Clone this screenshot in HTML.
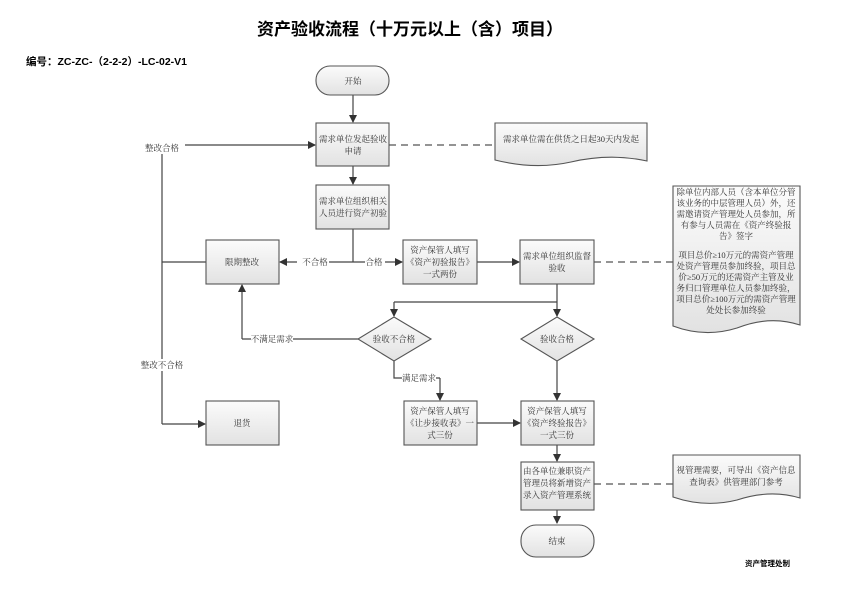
<!DOCTYPE html>
<html><head><meta charset="utf-8"><style>
body{margin:0;background:#fff}
svg text{font-family:"Liberation Serif","Noto Serif CJK SC",serif;font-size:8.5px;fill:#333}
</style></head><body>
<svg width="845" height="591" viewBox="0 0 845 591" xmlns="http://www.w3.org/2000/svg">
<defs>
<linearGradient id="g" x1="0" y1="0" x2="0" y2="1"><stop offset="0" stop-color="#fbfbfb"/><stop offset="1" stop-color="#e2e2e2"/></linearGradient>
<marker id="a" markerWidth="8" markerHeight="8" refX="7" refY="4" orient="auto" markerUnits="userSpaceOnUse"><path d="M0,0 L8,4 L0,8 z" fill="#333"/></marker>
</defs>
<text x="410" y="35" text-anchor="middle" style="font-family:'Liberation Sans','Noto Sans CJK SC',sans-serif;font-size:17px;font-weight:bold;fill:#000">资产验收流程（十万元以上（含）项目）</text>
<text x="26" y="65" style="font-family:'Liberation Sans','Noto Sans CJK SC',sans-serif;font-size:10.5px;font-weight:bold;fill:#000">编号：ZC-ZC-（2-2-2）-LC-02-V1</text>
<text x="745" y="566" style="font-family:'Liberation Sans','Noto Sans CJK SC',sans-serif;font-size:7.5px;font-weight:bold;fill:#000">资产管理处制</text>

<g stroke="#444" stroke-width="1.2" fill="none">
<line x1="353" y1="95" x2="353" y2="122" marker-end="url(#a)"/>
<line x1="353" y1="166" x2="353" y2="184" marker-end="url(#a)"/>
<polyline points="353,229 353,262"/>
<line x1="353" y1="262" x2="280" y2="262" marker-end="url(#a)"/>
<line x1="353" y1="262" x2="402" y2="262" marker-end="url(#a)"/>
<line x1="477" y1="262" x2="519" y2="262" marker-end="url(#a)"/>
<polyline points="206,262 162,262"/>
<polyline points="162,152 162,424"/>
<line x1="162" y1="424" x2="205" y2="424" marker-end="url(#a)"/>
<line x1="185" y1="145" x2="315" y2="145" marker-end="url(#a)"/>
<line x1="557" y1="284" x2="557" y2="316" marker-end="url(#a)"/>
<polyline points="557,302 394,302"/>
<line x1="394" y1="302" x2="394" y2="316" marker-end="url(#a)"/>
<polyline points="358,339 242,339"/>
<line x1="242" y1="339" x2="242" y2="285" marker-end="url(#a)"/>
<polyline points="394,361 394,378 440,378"/>
<line x1="440" y1="378" x2="440" y2="400" marker-end="url(#a)"/>
<line x1="557" y1="361" x2="557" y2="400" marker-end="url(#a)"/>
<line x1="477" y1="423" x2="520" y2="423" marker-end="url(#a)"/>
<line x1="557" y1="445" x2="557" y2="461" marker-end="url(#a)"/>
<line x1="557" y1="510" x2="557" y2="523" marker-end="url(#a)"/>
</g>
<g stroke="#555" stroke-width="1.3" stroke-dasharray="7,5" fill="none">
<line x1="389" y1="145" x2="495" y2="145"/>
<line x1="594" y1="262" x2="673" y2="262"/>
<line x1="594" y1="484" x2="673" y2="484"/>
</g>
<!-- label backgrounds -->
<g fill="#fff">
<rect x="143" y="142" width="40" height="12"/><rect x="297" y="256" width="32" height="12"/><rect x="365" y="256" width="20" height="12"/>
<rect x="251" y="333" width="42" height="12"/><rect x="143" y="359" width="40" height="12"/><rect x="402" y="372" width="34" height="12"/>
</g>
<text x="162" y="151" text-anchor="middle">整改合格</text>
<text x="162" y="368" text-anchor="middle">整改不合格</text>
<text x="315" y="265" text-anchor="middle">不合格</text>
<text x="374" y="265" text-anchor="middle">合格</text>
<text x="272" y="342" text-anchor="middle">不满足需求</text>
<text x="419" y="381" text-anchor="middle">满足需求</text>

<g fill="url(#g)" stroke="#555" stroke-width="1.1">
<rect x="316" y="66" width="73" height="29" rx="14"/>
<rect x="316" y="123" width="73" height="43"/>
<rect x="316" y="185" width="73" height="44"/>
<rect x="206" y="240" width="73" height="44"/>
<rect x="403" y="240" width="74" height="44"/>
<rect x="520" y="240" width="74" height="44"/>
<polygon points="394,317 431,339 394,361 358,339"/>
<polygon points="557,317 594,339 557,361 521,339"/>
<rect x="206" y="401" width="73" height="44"/>
<rect x="404" y="401" width="73" height="44"/>
<rect x="521" y="401" width="73" height="44"/>
<rect x="521" y="462" width="73" height="48"/>
<rect x="521" y="525" width="73" height="32" rx="15"/>
<path d="M495,123 H647 V161 Q610,153 571,162 Q535,170 495,160 Z"/>
<path d="M673,186 H800 V325 Q770,315 737,328 Q705,338 673,326 Z"/>
<path d="M673,455 H800 V498 Q770,489 737,500 Q705,508 673,497 Z"/>
</g>
<g text-anchor="middle">
<text x="353" y="84">开始</text>
<text x="353" y="142">需求单位发起验收</text><text x="353" y="154">申请</text>
<text x="353" y="204">需求单位组织相关</text><text x="353" y="216">人员进行资产初验</text>
<text x="242" y="265">限期整改</text>
<text x="440" y="253">资产保管人填写</text><text x="440" y="265">《资产初验报告》</text><text x="440" y="277">一式两份</text>
<text x="557" y="259">需求单位组织监督</text><text x="557" y="271">验收</text>
<text x="394" y="342">验收不合格</text>
<text x="557" y="342">验收合格</text>
<text x="242" y="426">退货</text>
<text x="440" y="414">资产保管人填写</text><text x="440" y="426">《让步接收表》一</text><text x="440" y="438">式三份</text>
<text x="557" y="414">资产保管人填写</text><text x="557" y="426">《资产终验报告》</text><text x="557" y="438">一式三份</text>
<text x="557" y="474">由各单位兼职资产</text><text x="557" y="486">管理员将新增资产</text><text x="557" y="498">录入资产管理系统</text>
<text x="557" y="544">结束</text>
<text x="571" y="142">需求单位需在供货之日起30天内发起</text>
<text x="736" y="195">除单位内部人员（含本单位分管</text>
<text x="736" y="206">该业务的中层管理人员）外，还</text>
<text x="736" y="217">需邀请资产管理处人员参加，所</text>
<text x="736" y="228">有参与人员需在《资产终验报</text>
<text x="736" y="239">告》签字</text>
<text x="736" y="258">项目总价≥10万元的需资产管理</text>
<text x="736" y="269">处资产管理员参加终验，项目总</text>
<text x="736" y="280">价≥50万元的还需资产主管及业</text>
<text x="736" y="291">务归口管理单位人员参加终验，</text>
<text x="736" y="302">项目总价≥100万元的需资产管理</text>
<text x="736" y="313">处处长参加终验</text>
<text x="736" y="473">视管理需要，可导出《资产信息</text>
<text x="736" y="485">查询表》供管理部门参考</text>
</g>
</svg>
</body></html>
